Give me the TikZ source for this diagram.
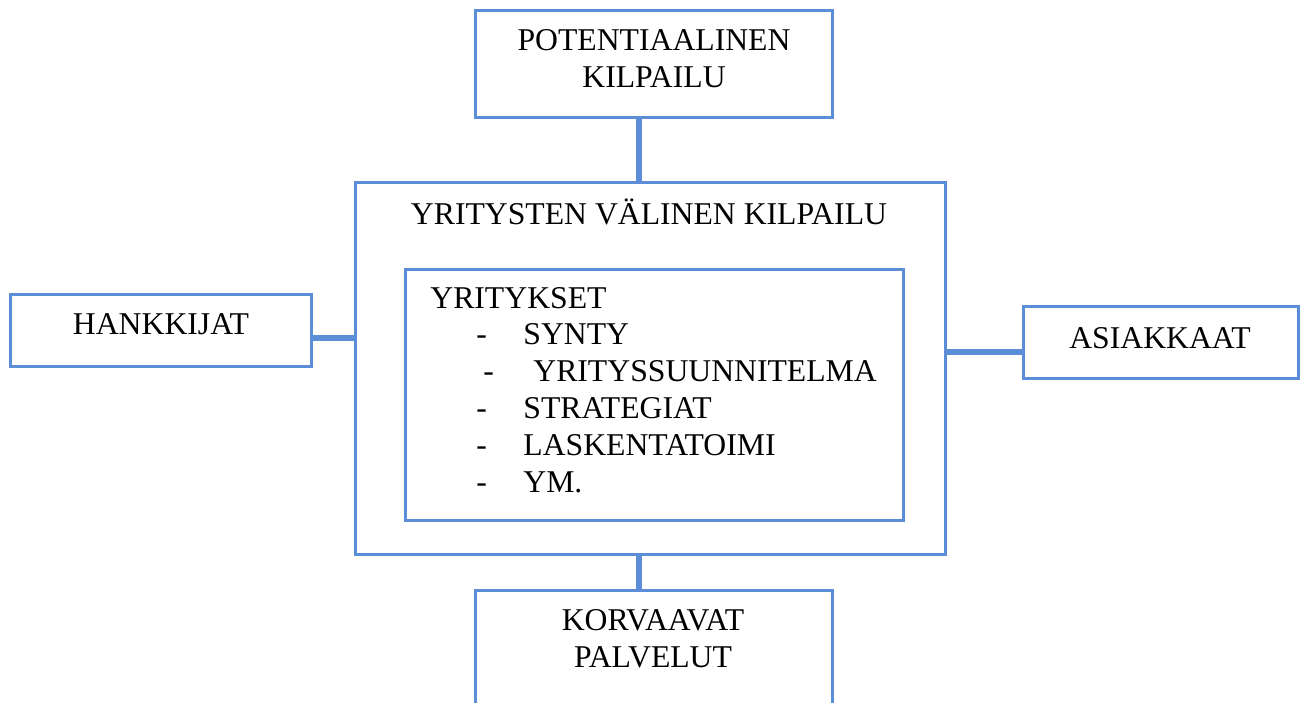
\documentclass[tikz,border=0pt]{standalone}
\usepackage{fontspec}
\setmainfont{Liberation Serif}
\usetikzlibrary{positioning}
\definecolor{boxblue}{RGB}{91,142,214}
\tikzset{
  frame/.style={draw=boxblue, line width=1.5pt, inner sep=0pt},
  link/.style={draw=boxblue, line width=2.6pt},
  lbl/.style={anchor=base, inner sep=0pt, font=\fontsize{15.85}{18.5}\selectfont}
}

\begin{document}
\begin{tikzpicture}[x=0.5pt, y=-0.5pt]
  \clip (0,0) rectangle (1304,702);
  \fill[white] (0,0) rectangle (1304,702);

  % Boxes
  \node[frame, minimum width=178.5pt, minimum height=53.5pt] (pot) at (653.5,63.5) {};
  \node[frame, minimum width=295pt, minimum height=186pt] (kilp) at (650,368) {};
  \node[frame, minimum width=249pt, minimum height=125.5pt] (yrit) at (654,394.5) {};
  \node[frame, minimum width=150.5pt, minimum height=36pt] (hank) at (160.5,330) {};
  \node[frame, minimum width=137.5pt, minimum height=36pt] (asia) at (1160.5,342) {};
  \node[frame, minimum width=178.5pt, minimum height=65pt] (korv) at (653.5,655) {};

  % Connectors
  \coordinate (vx) at (639,0);
  \coordinate (ly) at (0,338);
  \coordinate (ry) at (0,352);
  \draw[link] (pot.south -| vx) -- (kilp.north -| vx);
  \draw[link] (hank.east |- ly) -- (kilp.west |- ly);
  \draw[link] (kilp.east |- ry) -- (asia.west |- ry);
  \draw[link] (kilp.south -| vx) -- (korv.north -| vx);

  % Labels
  \node[lbl] (pot1) at (654,50) {POTENTIAALINEN};
  \node[lbl] (pot2) at (654,87) {KILPAILU};
  \node[lbl] (kilp1) at (649,224) {YRITYSTEN VÄLINEN KILPAILU};
  \node[lbl] (hank1) at (161,334) {HANKKIJAT};
  \node[lbl] (asia1) at (1160,348) {ASIAKKAAT};
  \node[lbl] (korv1) at (653,630) {KORVAAVAT};
  \node[lbl] (korv2) at (653,667) {PALVELUT};

  % Inner list
  \node[lbl, anchor=base west] (yrit1) at (430,308) {YRITYKSET};
  \foreach \i/\dx/\tx/\txt in {1/46/93/SYNTY, 2/53/103/YRITYSSUUNNITELMA,
      3/46/93/STRATEGIAT, 4/46/93/LASKENTATOIMI, 5/46/93/YM.} {
    \node[lbl, anchor=base west] (dash\i) at (430+\dx, 308+36.8*\i) {-};
    \node[lbl, anchor=base west] (item\i) at (430+\tx, 308+36.8*\i) {\txt};
  }
\end{tikzpicture}
\end{document}
